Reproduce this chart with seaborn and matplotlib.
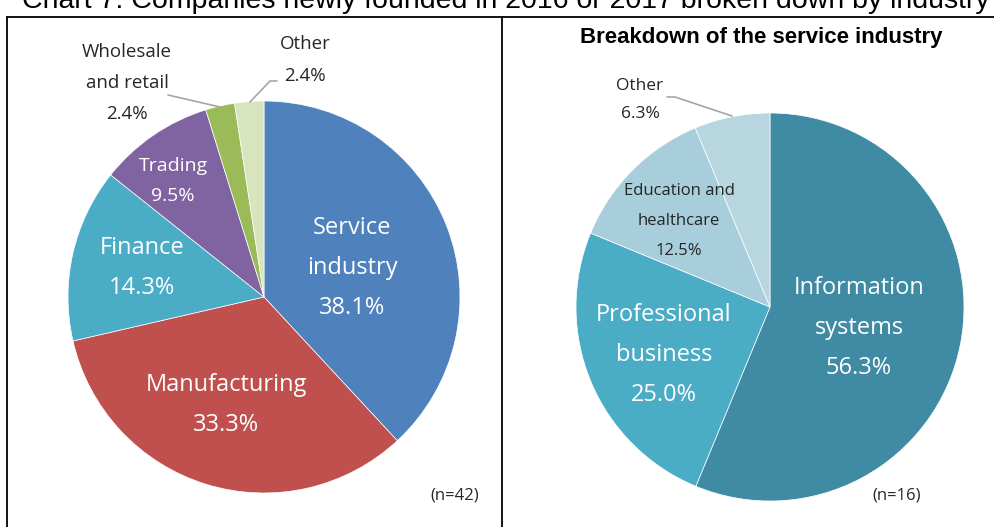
import matplotlib
matplotlib.use("Agg")
import matplotlib.pyplot as plt
from matplotlib.lines import Line2D
import seaborn as sns

# ---- data ----
all_labels = ["Service\nindustry", "Manufacturing", "Finance", "Trading",
              "Wholesale\nand retail", "Other"]
all_pct = [38.1, 33.3, 14.3, 9.5, 2.4, 2.4]
all_colors = ["#4F81BD", "#C0504D", "#4BACC6", "#8064A2", "#9BBB59", "#D7E4BD"]

svc_labels = ["Information\nsystems", "Professional\nbusiness",
              "Education and\nhealthcare", "Other"]
svc_pct = [56.3, 25.0, 12.5, 6.3]
svc_colors = ["#3E8BA3", "#4BACC6", "#A8CEDC", "#B7D6E0"]

title = "Chart 7: Companies newly founded in 2016 or 2017 broken down by industry"

sns.set_theme(style="white")
plt.rcParams["font.family"] = ["Open Sans", "DejaVu Sans"]

W, H = 995, 527
fig = plt.figure(figsize=(W / 100, H / 100), dpi=100)


def fx(px):
    return px / W


def fy(py):
    return 1 - py / H


def draw_pie(cx, cy, r, vals, cols):
    ax = fig.add_axes([fx(cx - r), fy(cy + r), 2 * r / W, 2 * r / H])
    ax.pie(vals, colors=cols, startangle=90, counterclock=False, radius=1,
           wedgeprops=dict(edgecolor="white", linewidth=0.5))
    ax.set_xlim(-1, 1)
    ax.set_ylim(-1, 1)
    ax.axis("off")
    return ax


def label(px, py, txt, size, color="white", ls=1.5):
    fig.text(fx(px), fy(py), txt, ha="center", va="center", fontsize=size,
             color=color, linespacing=ls)


def leader(points):
    xs = [fx(p[0]) for p in points]
    ys = [fy(p[1]) for p in points]
    fig.add_artist(Line2D(xs, ys, color="#A6A6A6", lw=1.2))


# ---- left pie ----
ax1 = draw_pie(264, 297, 196, all_pct, all_colors)

txt = [f"{l}\n{p:.1f}%" for l, p in zip(all_labels, all_pct)]
label(352, 268, txt[0], 17, ls=1.9)
label(226, 405, txt[1], 17, ls=1.9)
label(142, 268, txt[2], 17, ls=1.9)
label(173, 181, txt[3], 14, ls=1.9)
label(127, 83, txt[4], 13.5, color="#262626", ls=1.95)
label(305, 60, txt[5], 13.5, color="#262626", ls=1.95)
leader([(168, 95), (220, 107)])
leader([(277, 81), (270, 81), (250, 102)])

# ---- right pie ----
ax2 = draw_pie(770, 307, 194, svc_pct, svc_colors)

txt2 = [f"{l}\n{p:.1f}%" for l, p in zip(svc_labels, svc_pct)]
label(859, 328, txt2[0], 17, ls=1.9)
label(664, 355, txt2[1], 17, ls=1.9)
label(679, 221, txt2[2], 12, color="#262626", ls=2.15)
label(640, 100, txt2[3], 12.5, color="#262626", ls=1.95)
leader([(667, 97), (675, 97), (732, 116)])

fig.text(fx(761), fy(37), "Breakdown of the service industry", ha="center",
         va="center", fontsize=16, fontweight="bold", family="Liberation Sans",
         color="black")

fig.text(fx(455), fy(495), "(n=42)", ha="center", va="center", fontsize=12,
         color="#262626")
fig.text(fx(897), fy(495), "(n=16)", ha="center", va="center", fontsize=12,
         color="#262626")

# ---- frame ----
for pts in [[(7, 17), (W, 17)], [(7, 17), (7, H)], [(502, 17), (502, H)]]:
    fig.add_artist(Line2D([fx(p[0]) for p in pts], [fy(p[1]) for p in pts],
                          color="black", lw=1.3))

# ---- clipped title ----
t = fig.text(fx(506), fy(8), title, ha="center", va="baseline", fontsize=19,
             family="Liberation Sans", color="black")
fig.canvas.draw()
w = t.get_window_extent().width
t.set_fontsize(19 * 968 / w)

fig.savefig("out.png", dpi=100)
